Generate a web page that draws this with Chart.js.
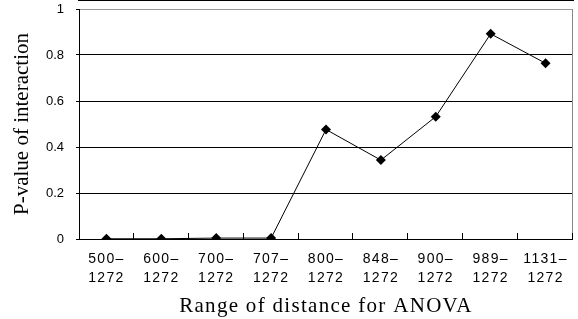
<!DOCTYPE html>
<html>
<head>
<meta charset="utf-8">
<script src="https://cdn.jsdelivr.net/npm/chart.js@4"></script>
<style>
  body { margin: 0; background: #fff; }
  #wrap { width: 578px; height: 319px; position: relative; }
</style>
</head>
<body>
<div id="wrap"><canvas id="chart"></canvas></div>
<script>
const categories = ["500–1272", "600–1272", "700–1272", "707–1272", "800–1272",
                    "848–1272", "900–1272", "989–1272", "1131–1272"];
const pValues = [0.001, 0.001, 0.004, 0.004, 0.476, 0.343, 0.532, 0.892, 0.764];
const yTitle = "P-value of interaction";
const xTitle = "Range of distance for ANOVA";

// split "500–1272" into two lines like the original
function splitLabel(label) {
    const i = label.indexOf("–");
    return [label.slice(0, i + 1), label.slice(i + 1)];
}

// inner tick marks on the x axis, gray frame on the right, spaced text for x axis
const framePlugin = {
    id: "frame",
    afterDatasetsDraw(chart) {
        chart.ctx.letterSpacing = "1.3px";
    },
    afterDraw(chart) {
        const ctx = chart.ctx;
        const area = chart.chartArea;
        const x = chart.scales.x;
        ctx.letterSpacing = "0px";
        ctx.save();
        ctx.strokeStyle = "#888";
        ctx.lineWidth = 1;
        ctx.beginPath();
        ctx.moveTo(area.right - 0.5, area.top);
        ctx.lineTo(area.right - 0.5, area.bottom);
        ctx.stroke();
        ctx.strokeStyle = "#000";
        ctx.beginPath();
        const half = (x.getPixelForValue(1) - x.getPixelForValue(0)) / 2;
        for (let i = 0; i < categories.length; i++) {
            const px = Math.round(x.getPixelForValue(i) + half) - 0.5;
            ctx.moveTo(px, area.bottom);
            ctx.lineTo(px, area.bottom - 6);
        }
        ctx.stroke();
        ctx.restore();
    }
};

const context = document.getElementById("chart").getContext("2d");
new Chart(context, {
    type: "line",
    data: {
        labels: categories,
        datasets: [{
            data: pValues,
            borderColor: "#000",
            borderWidth: 1,
            tension: 0,
            pointStyle: "rectRot",
            pointRadius: 5,
            pointBorderWidth: 0,
            pointBackgroundColor: "#000"
        }]
    },
    options: {
        responsive: true,
        maintainAspectRatio: false,
        animation: false,
        layout: { padding: { top: 9, right: 1, left: 0, bottom: 0 } },
        plugins: { legend: { display: false }, tooltip: { enabled: false } },
        scales: {
            x: {
                offset: true,
                afterFit(scale) {
                    scale.height = 80;
                    scale.paddingLeft = 0;
                    scale.paddingRight = 0;
                },
                grid: { display: false, z: 1 },
                border: { display: true, color: "#000", width: 2 },
                ticks: {
                    z: 1,
                    padding: 2,
                    maxRotation: 0,
                    autoSkip: false,
                    color: "#000",
                    font: { family: "Liberation Sans", size: 14, lineHeight: 1.38 },
                    callback(value) { return splitLabel(categories[value]); }
                },
                title: {
                    display: true,
                    text: xTitle,
                    color: "#000",
                    padding: { top: 0, bottom: 0 },
                    font: { family: "Liberation Serif", size: 21, lineHeight: 1.2 }
                }
            },
            y: {
                min: 0,
                max: 1,
                afterFit(scale) {
                    scale.width = 79;
                    scale.paddingTop = 0;
                    scale.paddingBottom = 0;
                },
                grid: {
                    color: (c) => c.tick && c.tick.value === 1 ? "#999" : "#000",
                    tickColor: "#000",
                    tickLength: 3,
                    lineWidth: 1
                },
                border: { display: true, color: "#000", width: 1 },
                ticks: {
                    stepSize: 0.2,
                    padding: 12,
                    color: "#000",
                    font: { family: "Liberation Sans", size: 13 },
                    callback(v) { return String(+v.toFixed(1)); }
                },
                title: {
                    display: true,
                    text: yTitle,
                    color: "#000",
                    padding: { top: 10, bottom: 0 },
                    font: { family: "Liberation Serif", size: 21, lineHeight: 1.2 }
                }
            }
        }
    },
    plugins: [framePlugin]
});
</script>
</body>
</html>
